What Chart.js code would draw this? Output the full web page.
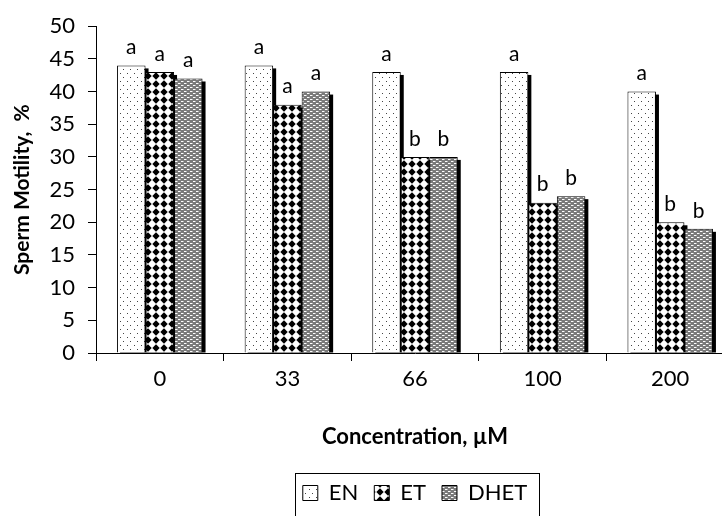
<!DOCTYPE html>
<html>
<head>
<meta charset="utf-8">
<script src="https://cdn.jsdelivr.net/npm/chart.js@4.4.0/dist/chart.umd.min.js"></script>
<style>
  html, body { margin: 0; padding: 0; background: #fff; overflow: hidden; }
  #wrap { width: 722px; height: 516px; overflow: hidden; }
</style>
</head>
<body>
<div id="wrap"><canvas id="motilityChart" width="740" height="516"></canvas></div>
<script>
// data
const concentrations = ['0', '33', '66', '100', '200'];
const enValues = [44, 44, 43, 43, 40];
const etValues = [43, 38, 30, 23, 20];
const dhetValues = [42, 40, 30, 24, 19];
const enLetters = ['a', 'a', 'a', 'a', 'a'];
const etLetters = ['a', 'a', 'b', 'b', 'b'];
const dhetLetters = ['a', 'a', 'b', 'b', 'b'];

function makePattern(w, h, paint) {
  const c = document.createElement('canvas');
  c.width = w;
  c.height = h;
  const g = c.getContext('2d');
  paint(g);
  return document.createElement('canvas').getContext('2d').createPattern(c, 'repeat');
}

// light dotted fill
const enFill = makePattern(7, 8, function (g) {
  g.fillStyle = '#fff';
  g.fillRect(0, 0, 7, 8);
  g.fillStyle = '#444';
  g.fillRect(1, 1, 1, 1);
  g.fillRect(4, 5, 1, 1);
});

// black diamonds on white
const etFill = makePattern(8, 8, function (g) {
  g.fillStyle = '#fff';
  g.fillRect(0, 0, 8, 8);
  g.fillStyle = '#000';
  g.beginPath();
  g.moveTo(4, 0.3);
  g.lineTo(7.7, 4);
  g.lineTo(4, 7.7);
  g.lineTo(0.3, 4);
  g.closePath();
  g.fill();
});

// grey with white dashes
const dhetFill = makePattern(6, 4, function (g) {
  g.fillStyle = '#7a7a7a';
  g.fillRect(0, 0, 6, 4);
  g.fillStyle = '#fff';
  g.fillRect(1, 1, 2, 1);
  g.fillRect(4, 3, 2, 1);
  g.fillStyle = '#bbb';
  g.fillRect(0, 3, 1, 1);
  g.fillRect(3, 1, 1, 1);
});

const barShadow = {
  id: 'barShadow',
  beforeDatasetsDraw(chart) {
    const ctx = chart.ctx;
    ctx.save();
    ctx.fillStyle = '#000';
    chart.data.datasets.forEach(function (ds, i) {
      chart.getDatasetMeta(i).data.forEach(function (bar) {
        const p = bar.getProps(['x', 'y', 'base', 'width'], true);
        ctx.fillRect(p.x - p.width / 2 + 3, p.y + 3, p.width, p.base - p.y - 3);
      });
    });
    ctx.restore();
  }
};

const sigLetters = {
  id: 'sigLetters',
  afterDatasetsDraw(chart) {
    const ctx = chart.ctx;
    ctx.save();
    ctx.fillStyle = '#000';
    ctx.font = '21px Lato';
    ctx.textAlign = 'center';
    ctx.textBaseline = 'middle';
    chart.data.datasets.forEach(function (ds, i) {
      chart.getDatasetMeta(i).data.forEach(function (bar, j) {
        ctx.fillText(ds.letters[j], bar.x, bar.y - 18);
      });
    });
    ctx.restore();
  }
};

const legendFrame = {
  id: 'legendFrame',
  afterDraw(chart) {
    const boxes = chart.legend.legendHitBoxes;
    if (!boxes || !boxes.length) return;
    const last = boxes[boxes.length - 1];
    const left = boxes[0].left - 8;
    const right = last.left + last.width + 12;
    const mid = boxes[0].top + boxes[0].height / 2;
    const ctx = chart.ctx;
    ctx.save();
    ctx.strokeStyle = '#000';
    ctx.lineWidth = 1;
    ctx.strokeRect(Math.round(left) + 0.5, Math.round(mid - 20) + 0.5, Math.round(right - left), 60);
    ctx.restore();
  }
};

Chart.defaults.font.family = 'Lato';
Chart.defaults.font.size = 22;
Chart.defaults.color = '#000';

const ctx = document.getElementById('motilityChart').getContext('2d');

const data = {
  labels: concentrations,
  datasets: [
    { label: 'EN', data: enValues, letters: enLetters, backgroundColor: enFill, borderColor: '#000', borderWidth: 1 },
    { label: 'ET', data: etValues, letters: etLetters, backgroundColor: etFill, borderColor: '#000', borderWidth: 1 },
    { label: 'DHET', data: dhetValues, letters: dhetLetters, backgroundColor: dhetFill, borderColor: '#000', borderWidth: 1 }
  ]
};

const config = {
  type: 'bar',
  data: data,
  options: {
    responsive: false,
    animation: false,
    layout: {
      padding: { top: 15, right: 6, bottom: 2, left: 0 }
    },
    datasets: {
      bar: { categoryPercentage: 0.67, barPercentage: 1.0 }
    },
    plugins: {
      tooltip: { enabled: false },
      legend: {
        position: 'bottom',
        fullSize: false,
        labels: {
          boxWidth: 15,
          boxHeight: 15,
          padding: 16,
          font: { size: 22 }
        }
      }
    },
    scales: {
      x: {
        afterFit: function (scale) { scale.height = 113; },
        border: { color: '#000', width: 1 },
        grid: { display: true, drawOnChartArea: false, color: '#000', tickLength: 8 },
        ticks: { padding: 5, font: { size: 22 } },
        title: {
          display: true,
          text: 'Concentration, µM',
          font: { size: 22, weight: 'bold' },
          padding: { top: 0, bottom: 16 }
        }
      },
      y: {
        min: 0,
        max: 50,
        afterFit: function (scale) { scale.width = 96; },
        border: { color: '#000', width: 1 },
        grid: { display: true, drawOnChartArea: false, color: '#000', tickLength: 8 },
        ticks: { stepSize: 5, padding: 13, font: { size: 22 } },
        title: {
          display: true,
          text: 'Sperm Motility,  %',
          font: { size: 21, weight: 'bold' },
          padding: { top: 10, bottom: 0 }
        }
      }
    }
  },
  plugins: [barShadow, sigLetters, legendFrame]
};

const motilityChart = new Chart(ctx, config);
</script>
</body>
</html>
